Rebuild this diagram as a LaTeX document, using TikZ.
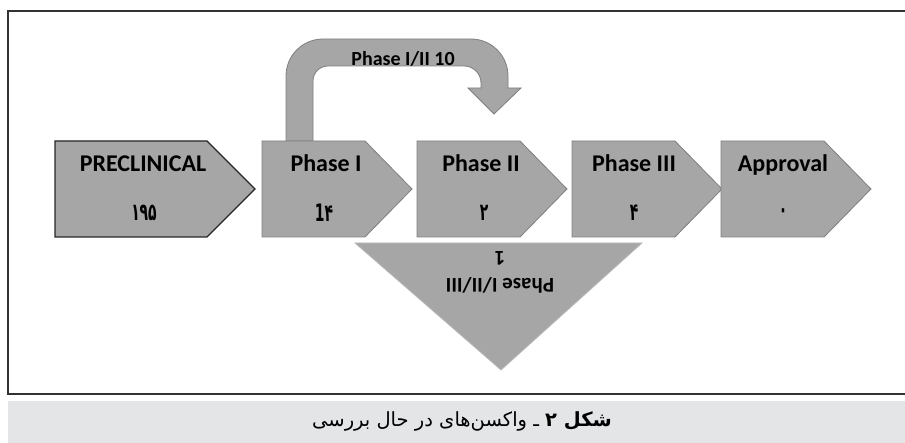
\documentclass[tikz,border=0pt]{standalone}
\usepackage{fontspec}
\setmainfont{Carlito}
\newfontfamily\arabicfont[Script=Arabic]{DejaVu Sans}
\newfontfamily\digitfont[Script=Arabic, FakeStretch=0.58]{DejaVu Sans}
\TeXXeTstate=1
\definecolor{boxgray}{HTML}{A6A6A6}
\definecolor{edgegray}{HTML}{7F7F7F}
\definecolor{framegray}{HTML}{333333}
\definecolor{capgray}{HTML}{E4E5E7}

\begin{document}
\begin{tikzpicture}[x = 1pt, y = -1pt,
    box/.style = {fill = boxgray, draw = edgegray, line width = .8pt},
    title/.style = {font = \fontsize{24}{28}\selectfont\bfseries, anchor = base},
    count/.style = {font = \digitfont\fontsize{24}{28}\selectfont\bfseries}]
        \useasboundingbox (0,0) rectangle (905,443);
        % frame and caption band
        \fill[capgray] (8,401) rectangle (905,443);
        \draw[framegray, line width = 1.5pt] (906,11) -- (8,11) -- (8,394) -- (906,394);
        % skip arrow phase I -> phase II
        \draw[box] (286,141) -- (286,76) arc[start angle = 180, end angle = 270, radius = 37]
                   -- (471,39) arc[start angle = 270, end angle = 360, radius = 37]
                   -- (508,88) -- (521,88) -- (494,114) -- (468,88) -- (481,88)
                   -- (481,83) arc[start angle = 0, end angle = -90, radius = 17]
                   -- (328,66) arc[start angle = 270, end angle = 180, radius = 15]
                   -- (313,141) -- cycle;
        % stages
        \draw[box, draw = black!85, line width = 1.2pt] (55,141) -- (207,141) --
                     (255,189) -- (207,237) -- (55,237) -- cycle;
        \foreach \x in {262,417,572,721}
          \draw[box] (\x,141) -- (\x+103,141) -- (\x+150,189) --
                     (\x+103,237) -- (\x,237) -- cycle;
        \draw[box, draw = gray!55] (355,243) -- (642,243) -- (501,370) -- cycle;
        % labels
        \node[title] (pre) at (143,172) {PRECLINICAL};
        \node[title] (ph1) at (326,172) {Phase I};
        \node[title] (ph2) at (481,172) {Phase II};
        \node[title] (ph3) at (634,172) {Phase III};
        \node[title] (appr) at (783,172) {Approval};
        \node[count] (npre) at (144,213) {۱۹۵};
        \node[count] (nph1) at (324,213) {1۴};
        \node[count] (nph2) at (484,213) {۲};
        \node[count] (nph3) at (634,213) {۴};
        \node[count] (nappr) at (783,213) {۰};
        \node[font = \fontsize{20}{24}\selectfont\bfseries, anchor = base] (skip) at (403,66) {Phase I/II 10};
        \node[font = \fontsize{21}{27}\selectfont\bfseries, rotate = 180, align = center] (all) at (500,272)
             {Phase I/II/III\\1};
        \node[font = \arabicfont\fontsize{19.5}{23}\selectfont] (cap) at (462,421)
             {\beginR{\bfseries شکل ۲} ـ واکسن‌های در حال بررسی\endR};
      \end{tikzpicture}
\end{document}
